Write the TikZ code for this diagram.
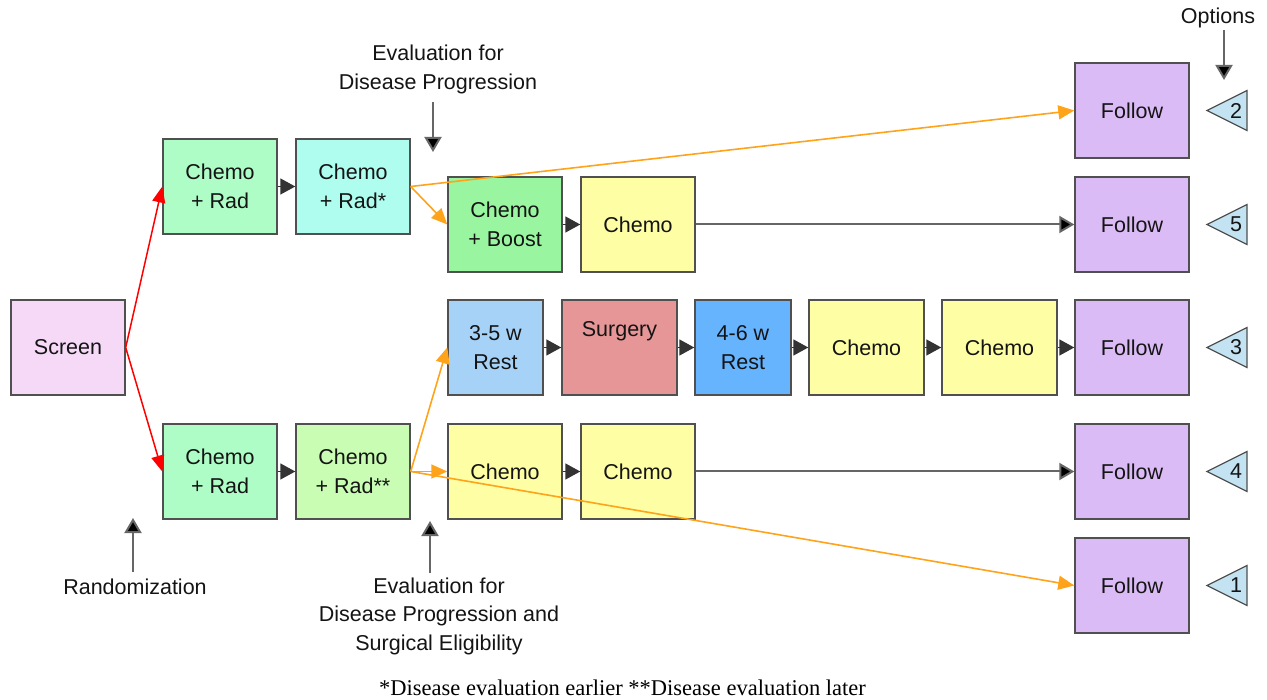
\documentclass[tikz,border=0pt]{standalone}
\usepackage{fontspec}
\setmainfont{Liberation Sans}
\newfontfamily\capfont{Liberation Serif}
\usetikzlibrary{arrows.meta}
\definecolor{screenfill}{HTML}{F5D9F7}
\definecolor{crfill}{HTML}{AFFDC6}
\definecolor{crsfill}{HTML}{AEFDEF}
\definecolor{cbfill}{HTML}{99F59F}
\definecolor{chemofill}{HTML}{FEFEA5}
\definecolor{crssfill}{HTML}{C8FDB3}
\definecolor{restone}{HTML}{A7D2F8}
\definecolor{surgfill}{HTML}{E69696}
\definecolor{resttwo}{HTML}{66B3FE}
\definecolor{followfill}{HTML}{DBBBF5}
\definecolor{trifill}{HTML}{C3E3F3}
\definecolor{orangeline}{HTML}{FFA31A}
\definecolor{boxline}{HTML}{505050}
\definecolor{txt}{HTML}{141414}
\newcommand\fs{\fontsize{21.5}{28.5}\selectfont}
\tikzset{
  box/.style={draw=boxline, line width=1.4pt, minimum width=114pt, minimum height=95pt,
    inner sep=0pt, align=center, font=\fs, text=txt},
  lbl/.style={align=center, font=\fs, text=txt, inner sep=0pt},
  blk/.style={draw=black!80, line width=1.4pt, -{Triangle[length=15pt,width=16pt]}},
  redarr/.style={draw=red, line width=1.5pt, -{Triangle[length=16pt,width=13pt]}},
  orarr/.style={draw=orangeline, line width=1.6pt, -{Triangle[length=16pt,width=14pt]}},
  grayarr/.style={draw=black!60, line width=2pt, -{Triangle[length=15pt,width=17pt,fill=black]}},
  tri/.style={draw=boxline, line width=1.2pt, fill=trifill},
}
\begin{document}
\begin{tikzpicture}[x=1pt,y=-1pt]
\useasboundingbox (0,0) rectangle (1267,700);
% boxes
\node[box, fill=screenfill] (screen) at (68,347.5) {Screen};
\node[box, fill=crfill] (cr1) at (220,186.5) {Chemo\\+ Rad};
\node[box, fill=crsfill] (crs) at (353,186.5) {Chemo\\+ Rad*};
\node[box, fill=cbfill] (cb) at (505,224.5) {Chemo\\+ Boost};
\node[box, fill=chemofill] (c2) at (638,224.5) {Chemo};
\node[box, fill=restone, minimum width=95pt] (r35) at (495.5,347.5) {3-5 w\\Rest};
\node[box, fill=surgfill, minimum width=115pt] (surg) at (619.5,347.5) {Surgery\\\strut};
\node[box, fill=resttwo, minimum width=96pt] (r46) at (743,347.5) {4-6 w\\Rest};
\node[box, fill=chemofill, minimum width=115pt] (c3a) at (866.5,347.5) {Chemo};
\node[box, fill=chemofill, minimum width=115pt] (c3b) at (999.5,347.5) {Chemo};
\node[box, fill=crfill] (cr2) at (220,471.5) {Chemo\\+ Rad};
\node[box, fill=crssfill] (crss) at (353,471.5) {Chemo\\+ Rad**};
\node[box, fill=chemofill] (c4a) at (505,471.5) {Chemo};
\node[box, fill=chemofill] (c4b) at (638,471.5) {Chemo};
\node[box, fill=followfill] (f1) at (1132,110.5) {Follow};
\node[box, fill=followfill] (f2) at (1132,224.5) {Follow};
\node[box, fill=followfill] (f3) at (1132,347.5) {Follow};
\node[box, fill=followfill] (f4) at (1132,471.5) {Follow};
\node[box, fill=followfill] (f5) at (1132,585.5) {Follow};
% option triangles
\foreach \n/\y in {2/110.5,5/224.5,3/347.5,4/471.5,1/585.5}{
  \draw[tri] (1207,\y) -- (1247,\y-20) -- (1247,\y+20) -- cycle;
  \node[lbl] (opt\n) at (1236,\y) {\n};
}
% labels
\node[lbl] (eval1) at (438,69.5) {Evaluation for\\Disease Progression};
\node[lbl] (eval2) at (439,616) {Evaluation for\\Disease Progression and\\Surgical Eligibility};
\node[lbl] (rand) at (135,587) {Randomization};
\node[lbl] (opts) at (1218,18) {Options};
\node[inner sep=0pt, font=\capfont\fontsize{22.5}{26}\selectfont] (cap) at (622.5,688) {*Disease evaluation earlier **Disease evaluation later};
\coordinate (e1a) at (433,102); \coordinate (e1b) at (433,152);
\coordinate (e2a) at (430,573); \coordinate (e2b) at (430,521);
\coordinate (ra) at (133,572); \coordinate (rb) at (133,518);
\coordinate (oa) at (1224,30); \coordinate (ob) at (1224,80);
\draw[grayarr] (e1a) -- (e1b);
\draw[grayarr] (e2a) -- (e2b);
\draw[grayarr] (ra) -- (rb);
\draw[grayarr] (oa) -- (ob);
% red
\draw[redarr] (screen.east) -- (cr1.west);
\draw[redarr] (screen.east) -- (cr2.west);
% black short
\draw[blk] (cr1.east) -- (crs.west);
\draw[blk] (cb.east) -- (c2.west);
\draw[blk] (r35.east) -- (surg.west);
\draw[blk] (surg.east) -- (r46.west);
\draw[blk] (r46.east) -- (c3a.west);
\draw[blk] (c3a.east) -- (c3b.west);
\draw[blk] (c3b.east) -- (f3.west);
\draw[blk] (cr2.east) -- (crss.west);
\draw[blk] (c4a.east) -- (c4b.west);
% gray long
\draw[grayarr] (c2.east) -- (f2.west);
\draw[grayarr] (c4b.east) -- (f4.west);
% orange
\draw[orarr] (crs.east) -- (f1.west);
\draw[orarr] (crs.east) -- (cb.west);
\draw[orarr] (crss.east) -- (r35.west);
\draw[orarr] (crss.east) -- (c4a.west);
\draw[orarr] (crss.east) -- (f5.west);
\end{tikzpicture}
\end{document}
